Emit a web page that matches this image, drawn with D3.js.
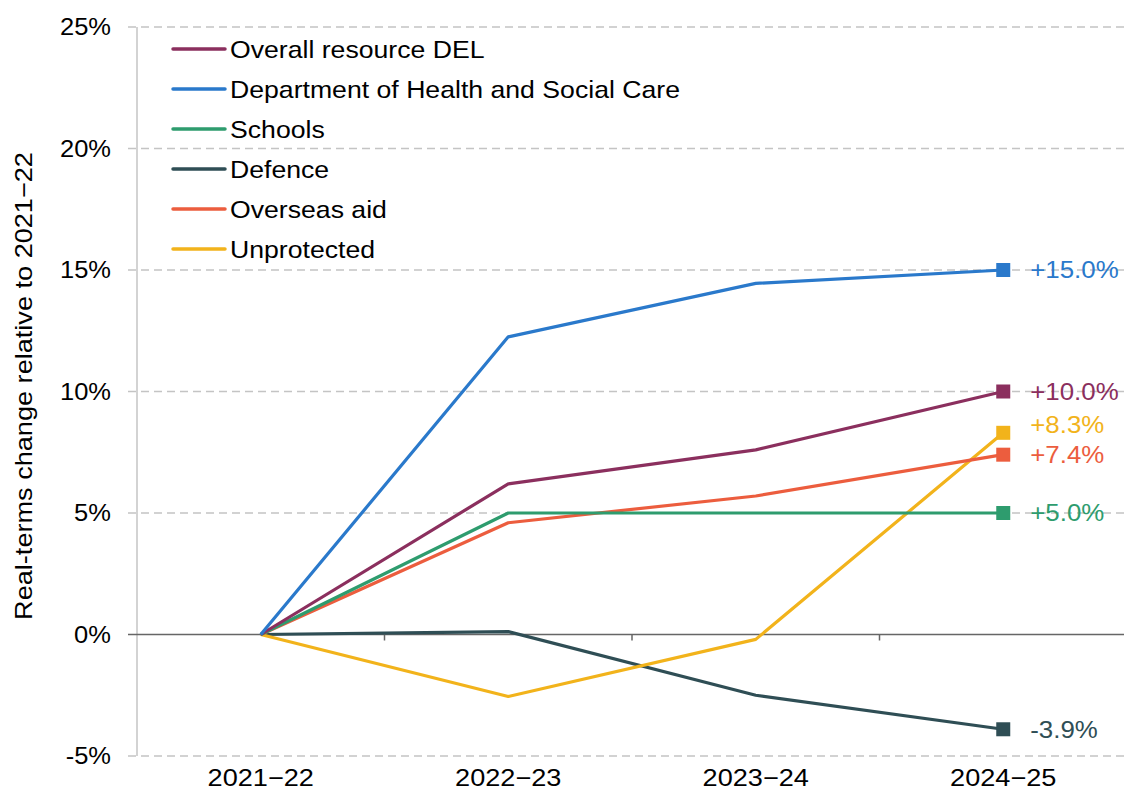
<!DOCTYPE html>
<html><head><meta charset="utf-8">
<script src="https://cdn.jsdelivr.net/npm/d3@7"></script>
<style>body{margin:0;background:#fff}svg{display:block;font-family:"Liberation Sans",Arial,sans-serif}</style>
</head><body><svg id="c" width="1124" height="799"></svg>
<script>
const categories = ["2021\u221222","2022\u221223","2023\u221224","2024\u221225"];
const seriesNames = ["Overall resource DEL","Department of Health and Social Care","Schools","Defence","Overseas aid","Unprotected"];
const overall = [0, 6.2, 7.6, 10.0];
const dhsc = [0, 12.25, 14.45, 15.0];
const schools = [0, 5.0, 5.0, 5.0];
const defence = [0, 0.12, -2.5, -3.9];
const overseas = [0, 4.6, 5.7, 7.4];
const unprotected = [0, -2.55, -0.2, 8.3];
const endLabels = ["+10.0%","+15.0%","+5.0%","-3.9%","+7.4%","+8.3%"];
const labelShift = [0,0,0,0,0,-8];
const colors = ["#8B2F5E","#2A79CB","#2E9C6E","#2F4E55","#EC5D3E","#F2B31B"];
const yTicks = [-5,0,5,10,15,20,25];
const allSeries = [overall,dhsc,schools,defence,overseas,unprotected];

const svg = d3.select("#c");
const x = d3.scaleBand().domain(categories).range([137,1127]);
const y = d3.scaleLinear().domain([-5,25]).range([756,27]);
const cx = d => x(d)+x.bandwidth()/2;

function txt(g, px, py, s, size, sx, anchor, fill, rot){
  return g.append("text")
    .attr("transform",`translate(${px},${py})` + (rot?` rotate(${rot})`:"") + ` scale(${sx},1)`)
    .attr("text-anchor",anchor).attr("dy","0.36em").attr("font-size",size).attr("fill",fill).text(s);
}

// gridlines
svg.append("g").selectAll("line").data(yTicks.filter(t=>t!==0)).join("line")
  .attr("x1",128).attr("x2",1124).attr("y1",d=>y(d)).attr("y2",d=>y(d))
  .attr("stroke","#c4c4c4").attr("stroke-width",1.5).attr("stroke-dasharray","8,5");
// y axis line
svg.append("line").attr("x1",137).attr("x2",137).attr("y1",27).attr("y2",756).attr("stroke","#c4c4c4").attr("stroke-width",1.5);
// y tick labels
const yl = svg.append("g");
yTicks.forEach(t=>txt(yl,111,y(t),t+"%",23.3,1.095,"end","#000"));
// zero line
svg.append("line").attr("x1",128).attr("x2",1124).attr("y1",y(0)).attr("y2",y(0)).attr("stroke","#666").attr("stroke-width",1.5);
// x ticks at band boundaries
svg.append("g").selectAll("line").data(categories.slice(1)).join("line")
  .attr("x1",d=>x(d)).attr("x2",d=>x(d)).attr("y1",y(0)).attr("y2",y(0)+6).attr("stroke","#666").attr("stroke-width",1.5);
// x labels
const xl = svg.append("g");
categories.forEach(c=>txt(xl,cx(c),777,c,24,1.13,"middle","#000"));
// y title
txt(svg,23,386,"Real-terms change relative to 2021\u221222",24,1.13,"middle","#000",-90);

const line = d3.line().x((d,i)=>cx(categories[i])).y(d=>y(d));
const order = [3,5,4,2,0,1];
order.forEach(k=>{
  svg.append("path").datum(allSeries[k]).attr("d",line).attr("fill","none")
    .attr("stroke",colors[k]).attr("stroke-width",3.2).attr("stroke-linejoin","round");
});
allSeries.forEach((s,k)=>{
  const last = s[s.length-1];
  const px = cx(categories[3]), py = y(last);
  svg.append("rect").attr("x",px-7).attr("y",py-7).attr("width",14).attr("height",14).attr("fill",colors[k]);
  txt(svg,px+27,py+labelShift[k],endLabels[k],23.3,1.11,"start",colors[k]);
});
// legend
const lg = svg.append("g");
seriesNames.forEach((n,i)=>{
  const yy = 49 + i*40;
  lg.append("line").attr("x1",173).attr("x2",225).attr("y1",yy).attr("y2",yy).attr("stroke",colors[i]).attr("stroke-width",3.5).attr("stroke-linecap","round");
  txt(lg,230,yy,n,24,1.11,"start","#000");
});
</script></body></html>
